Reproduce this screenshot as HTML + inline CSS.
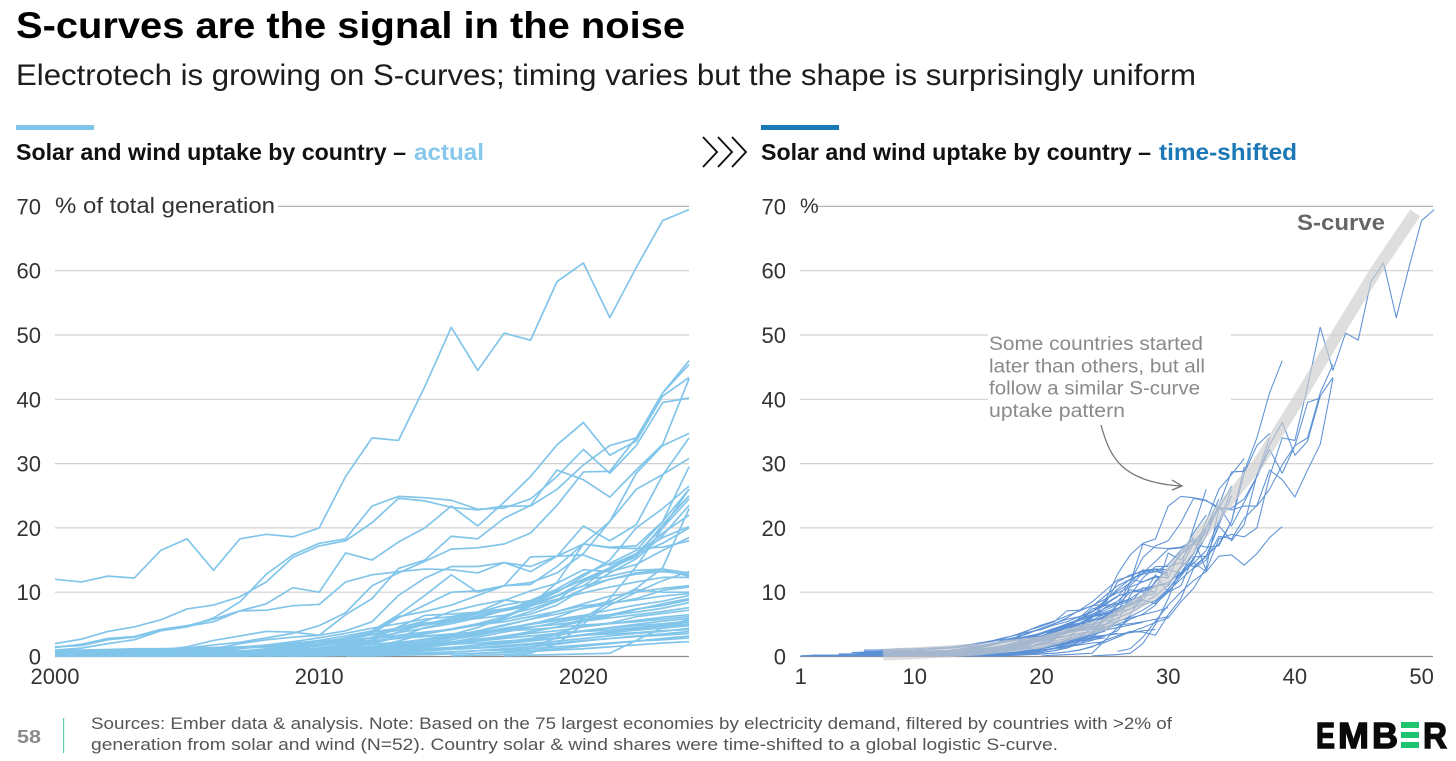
<!DOCTYPE html>
<html lang="en">
<head>
<meta charset="utf-8">
<title>S-curves are the signal in the noise</title>
<style>
html,body{margin:0;padding:0;background:#fff;}
svg{display:block;font-family:"Liberation Sans",sans-serif;}
</style>
</head>
<body>
<svg id="page" xmlns="http://www.w3.org/2000/svg" width="1456" height="761" viewBox="0 0 1456 761">
  <rect x="0" y="0" width="1456" height="761" fill="#fff"/>
  <text x="16" y="38" font-size="37" font-weight="700" fill="#000" textLength="669" lengthAdjust="spacingAndGlyphs">S-curves are the signal in the noise</text>
  <text x="16" y="85" font-size="30" fill="#1c1c1c" textLength="1180" lengthAdjust="spacingAndGlyphs">Electrotech is growing on S-curves; timing varies but the shape is surprisingly uniform</text>

  <rect x="16" y="125" width="78" height="5" fill="#7fc5ea"/>
  <text x="16" y="160" font-size="23" font-weight="700" fill="#111" textLength="390" lengthAdjust="spacingAndGlyphs">Solar and wind uptake by country –</text>
  <text x="414" y="160" font-size="23" font-weight="700" fill="#85c8ec" textLength="70" lengthAdjust="spacingAndGlyphs">actual</text>

  <g fill="none" stroke="#111" stroke-width="1.9">
    <path d="M703 137 L717 152 L703 167"/>
    <path d="M718 137 L732 152 L718 167"/>
    <path d="M732 137 L746 152 L732 167"/>
  </g>

  <rect x="761" y="125" width="78" height="5" fill="#1b78b6"/>
  <text x="761" y="160" font-size="23" font-weight="700" fill="#111" textLength="390" lengthAdjust="spacingAndGlyphs">Solar and wind uptake by country –</text>
  <text x="1159" y="160" font-size="23" font-weight="700" fill="#1b78b6" textLength="138" lengthAdjust="spacingAndGlyphs">time-shifted</text>

  <g id="left-chart"></g>
  <g id="right-chart"></g>

  <text x="91" y="729" font-size="17" fill="#555" textLength="1081" lengthAdjust="spacingAndGlyphs">Sources: Ember data &amp; analysis. Note: Based on the 75 largest economies by electricity demand, filtered by countries with &gt;2% of</text>
  <text x="91" y="750" font-size="17" fill="#555" textLength="967" lengthAdjust="spacingAndGlyphs">generation from solar and wind (N=52). Country solar &amp; wind shares were time-shifted to a global logistic S-curve.</text>
  <text x="17" y="743" font-size="18" font-weight="700" fill="#8a8a8a" textLength="24" lengthAdjust="spacingAndGlyphs">58</text>
  <rect x="63" y="718" width="1.2" height="35" fill="#5fd0a0"/>

  <g stroke-linejoin="miter">
    <text x="1316" y="748" font-size="36" font-weight="700" fill="#0a0a0a" stroke="#0a0a0a" stroke-width="1.4" textLength="19" lengthAdjust="spacingAndGlyphs">E</text>
    <text x="1338" y="748" font-size="36" font-weight="700" fill="#0a0a0a" stroke="#0a0a0a" stroke-width="1.4" textLength="31" lengthAdjust="spacingAndGlyphs">M</text>
    <text x="1372" y="748" font-size="36" font-weight="700" fill="#0a0a0a" stroke="#0a0a0a" stroke-width="1.4" textLength="26" lengthAdjust="spacingAndGlyphs">B</text>
    <text x="1401" y="748" font-size="36" font-weight="700" fill="none" textLength="18" lengthAdjust="spacingAndGlyphs">E</text>
    <rect x="1401" y="722" width="18" height="6" fill="#1fc46f"/>
    <rect x="1401" y="732" width="18" height="6" fill="#1fc46f"/>
    <rect x="1401" y="742" width="18" height="6" fill="#1fc46f"/>
    <text x="1423" y="748" font-size="36" font-weight="700" fill="#0a0a0a" stroke="#0a0a0a" stroke-width="1.4" textLength="24" lengthAdjust="spacingAndGlyphs">R</text>
  </g>
</svg>

<script>
// Axis tick labels
const yTicks = [0, 10, 20, 30, 40, 50, 60, 70];
const leftXTicks = [2000, 2010, 2020];
const rightXTicks = [1, 10, 20, 30, 40, 50];

// Solar + wind share of generation, % (2000..2024), one array per country
const c01 = [12,11.6,12.5,12.2,16.5,18.3,13.4,18.3,19,18.6,20,28,34,33.6,42,51.2,44.5,50.3,49.2,58.3,61.2,52.7,60.5,67.8,69.5];
const c02 = [2,2.7,3.9,4.6,5.7,7.4,8,9.3,11.6,15.4,17.2,18,20.8,24.6,24.2,23.2,22.8,23.4,23.4,26,29.8,32.8,34,41,45.4];
const c03 = [1,1.3,2,2.6,4,4.6,6,8.5,12.8,15.8,17.6,18.3,23.4,24.9,24.7,24.3,22.9,23.1,24.5,28,32.2,28.5,32.8,39.5,40.2];
const c04 = [1.4,1.9,2.8,3.1,4.2,4.8,5.8,7.1,8.2,10.7,10,16.1,15,17.8,20,23.4,20.3,24,28,32.9,36.4,31.3,33.5,40.5,43.4];
const c05 = [1.5,1.7,2.6,3,4.1,4.7,5.4,7.1,7.2,7.9,8.1,11.6,12.7,13.2,13.6,13.5,13,14.6,13.2,15.6,15.8,14.2,16,18.5,20.2];
const c06 = [0.3,0.4,0.5,0.7,1,1.5,2.5,3.2,3.9,3.8,3.3,6.5,9,13.7,15,18.7,18.3,21.5,23.5,29,27.5,24.8,29,33,43.2];
const c07 = [0.2,0.3,0.5,0.7,1,1.3,1.8,2.2,2.9,3.6,4.8,6.8,11,13,14.8,16.7,16.9,17.5,19.2,23.5,28.7,28.8,34,41,46];
const c08 = [0.1,0.1,0.2,0.3,0.5,0.9,1.2,2,2.6,3,3.3,4,5.4,9.5,12.2,14,14,14.6,14,15.6,17.5,21,28.5,32.8,34.7];
const c09 = [0.1,0.1,0.2,0.2,0.4,0.6,0.9,1.2,1.6,2,2.5,3.2,4,6.5,9.5,12.7,10,11,15.5,15.6,20.3,18,20.5,28.2,34];
const c10 = [0.1,0.1,0.1,0.2,0.3,0.4,0.6,0.8,1.2,1.6,2,2.8,3.6,6,8,10,10.2,11,11.5,13,16,21,26,28.3,30.8];
const c11 = [0,0.1,0.1,0.1,0.2,0.3,0.4,0.6,0.9,1.2,1.6,2.3,3.8,6.2,7,8,9.5,11,11.2,14,17.5,17,17.2,21,29.5];
const c12 = [0,0,0.1,0.1,0.1,0.2,0.3,0.5,0.7,1,1.3,2,3,4.5,5.5,7,8,8.8,8.2,10,12.5,15,20,23,26.5];
const c13 = [0,0,0,0.1,0.1,0.1,0.2,0.3,0.5,0.8,1.2,1.8,2.6,3.8,5,6,6.8,8,8.7,10.5,12.8,14.5,16.5,21,26];
const c14 = [0,0,0,0,0.1,0.1,0.2,0.3,0.4,0.6,0.9,1.3,2,3,4.5,5.4,6.2,7.2,8.5,10.2,12,13.8,15.5,20.5,25];
const c15 = [0.1,0.1,0.1,0.2,0.2,0.3,0.4,0.5,0.7,0.9,1.2,1.6,2.5,4.6,6.4,6.6,6.9,7.4,8.2,9.5,11,13.8,16,20,24.5];
const c16 = [0,0,0,0,0,0.1,0.1,0.2,0.3,0.4,0.6,0.9,1.5,2.4,3.5,4.2,5,5.8,6.6,8,10.5,13,15.2,18.8,23.5];
const c17 = [0,0,0,0,0,0,0.1,0.1,0.2,0.3,0.4,0.5,0.7,1,1.6,2.2,3,3.8,4.5,5.3,6,8.5,10.6,13.8,23];
const c18 = [0.3,0.3,0.4,0.4,0.5,0.6,0.7,0.8,1,1.3,1.8,2.6,3.4,4.5,5.2,5.6,5.9,6.4,7.4,8.7,11.8,13.5,15.8,19.2,22];
const c19 = [0.1,0.1,0.2,0.2,0.3,0.4,0.6,0.8,1.1,1.5,2,2.9,3.8,4.4,5,5.7,6.6,7.2,8,9.4,11.6,13.6,15.9,17.6,20];
const c20 = [0.4,0.4,0.5,0.6,0.7,0.9,1.1,1.4,1.8,2.3,2.9,3.6,4.4,5.1,5.8,6.2,6.9,8.7,10.2,11.4,13.5,13.2,14.3,16.5,18.5];
const c21 = [0,0,0,0.1,0.1,0.2,0.2,0.3,0.5,0.7,1,1.5,2.2,3,3.6,4.3,5.1,6.2,8,11.5,17.5,16.9,16.8,17,18];
const c22 = [0,0,0,0,0,0,0,0,0,0,0,0,0,0,0,0,0,0.8,1.2,3,5.5,8,10,11.8,13.2];
const c23 = [0.2,0.2,0.3,0.3,0.4,0.5,0.6,0.8,1,1.3,1.7,2.2,2.9,3.7,4.4,5.1,6,7.2,8.5,10.2,11.9,12.5,13.4,13.6,13];
const c24 = [0.1,0.2,0.2,0.3,0.3,0.4,0.5,0.6,0.8,1,1.3,1.7,2.2,2.9,3.6,4.2,4.9,5.7,7,8.6,10.5,12,12.8,13.2,12.8];
const c25 = [0,0,0.1,0.1,0.1,0.2,0.3,0.4,0.5,0.7,0.9,1.2,1.6,2.1,2.7,3.4,4.5,6,7.8,9.4,11,12,13,13.5,12.5];
const c26 = [0.5,0.6,0.7,0.8,0.9,1,1.2,1.4,1.6,1.9,2.3,2.8,3.4,4.1,4.9,5.5,6.3,7.1,7.9,8.9,9.9,10.8,11.6,12.3,12.3];
const c27 = [0,0,0,0,0.1,0.1,0.2,0.2,0.3,0.4,0.6,0.8,1.1,1.6,2.2,3,3.9,4.8,5.8,7,8.2,9.4,10,10.6,11];
const c28 = [0.2,0.2,0.2,0.3,0.3,0.4,0.4,0.5,0.6,0.7,0.9,1.1,1.4,1.9,2.5,3.2,4,4.9,5.8,6.6,7.5,8.2,9,10.3,10.8];
const c29 = [0,0,0,0,0,0,0.1,0.1,0.2,0.3,0.4,0.6,0.9,1.4,2,2.6,3.3,4.1,5,6.1,7.6,8.6,10.4,10,10];
const c30 = [0.6,0.7,0.7,0.8,0.9,1,1.1,1.3,1.5,1.8,2,2.4,2.9,3.3,3.8,4.2,4.9,5.4,6.2,7,7.9,8.3,8.8,9.4,9.8];
const c31 = [0.1,0.1,0.1,0.2,0.2,0.2,0.3,0.4,0.5,0.6,0.8,1,1.3,1.7,2.2,2.9,3.5,4.3,5.1,5.8,6.4,7.2,8,8.6,9.5];
const c32 = [0,0,0,0,0,0.1,0.1,0.2,0.2,0.3,0.4,0.5,0.8,1.1,1.6,2,2.5,3.1,3.9,4.6,5.5,6.3,7.3,8.2,9];
const c33 = [0.3,0.3,0.4,0.4,0.4,0.5,0.6,0.7,0.8,1,1.2,1.5,1.9,2.2,2.6,3.1,3.7,4.4,5,5.6,6.2,6.5,7.4,7.9,8.8];
const c34 = [0,0,0,0.1,0.1,0.1,0.2,0.2,0.3,0.4,0.5,0.6,0.8,1,1.4,1.9,2.6,3.2,3.8,4.6,5.8,6.4,6.9,7.5,8.4];
const c35 = [0.8,0.8,0.9,1,1,1.1,1.2,1.3,1.5,1.7,1.9,2.2,2.5,2.8,3.1,3.5,3.8,4.2,4.6,5,5.5,6,6.5,7,7.6];
const c36 = [0,0,0,0,0,0,0,0,0.1,0.1,0.2,0.3,0.4,0.6,0.9,1.3,1.8,2.3,2.8,3.6,4.8,5.2,6.2,6.7,7.2];
const c37 = [0.2,0.2,0.2,0.3,0.3,0.3,0.4,0.5,0.6,0.7,0.8,1,1.2,1.5,1.9,2.3,2.7,3.1,3.6,4,4.6,5.1,5.6,6.1,6.5];
const c38 = [1,1,1.1,1.2,1.2,1.3,1.4,1.5,1.7,2.1,2.4,2.6,2.9,3,3.2,3.5,3.8,4,4.2,4.5,4.9,5.1,5.4,5.8,6.2];
const c39 = [0,0,0,0,0,0,0,0.1,0.1,0.2,0.3,0.4,0.6,0.8,1.1,1.4,1.8,2.2,2.7,3.3,4,4.5,5,5.5,5.9];
const c40 = [0.1,0.1,0.1,0.1,0.2,0.2,0.2,0.3,0.4,0.5,0.6,0.8,1,1.3,1.6,2,2.4,2.8,3.2,3.6,4,4.4,4.8,5.1,5.5];
const c41 = [0.4,0.4,0.5,0.5,0.5,0.6,0.7,0.7,0.8,0.9,1,1.1,1.3,1.5,1.8,2.1,2.5,2.9,3.2,3.4,3.9,4.1,4.5,4.9,5.3];
const c42 = [0,0,0,0,0,0,0.1,0.1,0.1,0.2,0.2,0.3,0.5,0.7,1,1.3,1.7,2.2,2.5,2.9,3.4,3.9,4.3,4.7,5];
const c43 = [0.1,0.2,0.2,0.2,0.2,0.3,0.3,0.4,0.4,0.5,0.6,0.7,0.8,1,1.2,1.4,1.7,2,2.4,2.8,3.3,3.7,4.1,4.4,4.8];
const c44 = [0,0,0,0,0.1,0.1,0.1,0.2,0.2,0.3,0.3,0.4,0.5,0.7,0.9,1.1,1.4,1.7,2,2.4,2.8,3.2,3.6,3.9,4.4];
const c45 = [0.6,0.6,0.6,0.7,0.7,0.8,0.8,0.9,0.9,1,1.1,1.2,1.3,1.5,1.6,1.9,2.1,2.4,2.6,2.9,3.3,3.5,3.7,4,4.2];
const c46 = [0,0,0,0,0,0,0,0,0,0.1,0.1,0.2,0.3,0.4,0.5,0.7,0.9,1.2,1.5,1.9,2.4,2.8,3.2,3.5,3.9];
const c47 = [0.2,0.2,0.2,0.2,0.3,0.3,0.3,0.3,0.4,0.4,0.5,0.5,0.6,0.8,0.9,1.1,1.3,1.5,1.8,2.1,2.5,2.8,3.1,3.3,3.6];
const c48 = [0,0,0,0,0,0,0,0,0,0,0,0.1,0.1,0.2,0.3,0.4,0.5,0.7,0.9,1.2,1.6,2,2.4,2.8,3.2];
const c49 = [0.1,0.1,0.1,0.1,0.1,0.2,0.2,0.2,0.2,0.3,0.3,0.4,0.4,0.5,0.6,0.7,0.9,1,1.2,1.5,1.8,2.1,2.4,2.6,2.9];
const c50 = [0,0,0,0,0,0,0,0,0.1,0.1,0.1,0.2,0.2,0.3,0.3,0.4,0.5,0.6,0.8,1,1.2,1.5,1.8,2.1,2.3];
const c51 = [0,0,0,0,0,0,0,0,0,0,0,0,0,0,0,0,0,0.1,0.2,0.3,0.4,0.5,2.5,4.5,5.8];
const c52 = [0,0,0,0,0,0,0,0,0,0,0,0,0,0,0,0.1,0.2,0.3,0.5,2,5,9,14,20,26];

const countries = [c01,c02,c03,c04,c05,c06,c07,c08,c09,c10,c11,c12,c13,c14,c15,c16,c17,c18,c19,c20,c21,c22,c23,c24,c25,c26,c27,c28,c29,c30,c31,c32,c33,c34,c35,c36,c37,c38,c39,c40,c41,c42,c43,c44,c45,c46,c47,c48,c49,c50,c51,c52];

// Years each country is moved along the S-curve axis in the right chart
const timeShifts = [27,19,18,19,15,19,15,14,14,12,12,11,11,11,10,10,10,9,9,8,8,9,6,6,6,6,5,5,5,5,4,4,4,3,6,2,2,6,2,1,4,1,1,1,5,1,2,1,1,1,3,9];

// Global logistic S-curve
const sCurveYears = [7.5,10,15,20,25,29,33,37.1,40.3,43.3,46.4,49.5];
const sCurveShares = [0.3,0.5,1.1,2.2,5,10,20,30,40,50,60,69];

const SVG_NS = 'http://www.w3.org/2000/svg';
const yScale = v => 656.5 - v * 6.43;
const xLeft = year => 55 + (year - 2000) * 26.42;
const xRight = n => 1041.5 + (n - 20) * 12.67;

function make(parent, tag, attrs, text) {
  const el = document.createElementNS(SVG_NS, tag);
  for (const k in attrs) el.setAttribute(k, attrs[k]);
  if (text !== undefined) el.textContent = text;
  parent.appendChild(el);
  return el;
}

function drawGrid(g, x0, x1, labelRight) {
  yTicks.forEach(t => {
    const line = make(g, 'line', {x1: x0, x2: x1, y1: yScale(t), y2: yScale(t),
      stroke: t === 0 ? '#8c8c8c' : (t === 70 ? '#b4b4b4' : '#d0d0d0'), 'stroke-width': 1.2});
    
    
    const label = make(g, 'text', {x: labelRight, y: yScale(t) + 8, 'font-size': 22, 'text-anchor': 'end', fill: '#333'}, String(t));
    
    
  });
}

function drawXTicks(g, ticks, xFn) {
  ticks.forEach(t => {
    const label = make(g, 'text', {x: xFn(t), y: 684, 'font-size': 22, 'text-anchor': 'middle', fill: '#333'}, String(t));
    
    
  });
}

function pointsFor(values, xOf) {
  const pts = [];
  let started = false;
  values.forEach((v, i) => {
    if (v > 0) started = true;
    if (started) pts.push(xOf(i).toFixed(2) + ',' + yScale(v).toFixed(2));
  });
  return pts.join(' ');
}

function drawLeft() {
  const g = document.getElementById('left-chart');
  drawGrid(g, 55, 689, 41);
  const mask = make(g, 'rect', {x: 50, y: 190, width: 228, height: 30, fill: '#fff'});
  
  
  const title = make(g, 'text', {x: 55, y: 213, 'font-size': 22, fill: '#333', textLength: 220, lengthAdjust: 'spacingAndGlyphs'}, '% of total generation');
  
  
  drawXTicks(g, leftXTicks, xLeft);
  countries.forEach((values, k) => {
    const line = make(g, 'polyline', {points: pointsFor(values, i => xLeft(2000 + i)), fill: 'none', stroke: '#82c5ea', 'stroke-width': 1.7, 'stroke-linejoin': 'round'});
    
    
  });
}

function drawRight() {
  const g = document.getElementById('right-chart');
  drawGrid(g, 800, 1433, 786);
  const mask = make(g, 'rect', {x: 797, y: 195, width: 18, height: 20, fill: '#fff'});
  
  
  const title = make(g, 'text', {x: 800, y: 213, 'font-size': 21, fill: '#333'}, '%');
  
  
  drawXTicks(g, rightXTicks, xRight);

  const noteBox = make(g, 'rect', {x: 988, y: 325, width: 243, height: 100, fill: '#fff'});
  
  

  countries.forEach((values, k) => {
    const line = make(g, 'polyline', {points: pointsFor(values, i => xRight(i + timeShifts[k])), fill: 'none', stroke: '#5c91d5', 'stroke-width': 1.05, 'stroke-linejoin': 'round'});
    
    
  });

  const band = make(g, 'polyline', {
    points: sCurveYears.map((x, i) => xRight(x).toFixed(2) + ',' + yScale(sCurveShares[i]).toFixed(2)).join(' '),
    fill: 'none', stroke: '#cdcdcd', 'stroke-opacity': 0.65, 'stroke-width': 12, 'stroke-linejoin': 'round'});
  
  

  const sLabel = make(g, 'text', {x: 1297, y: 230, 'font-size': 22, 'font-weight': 700, fill: '#666', textLength: 88, lengthAdjust: 'spacingAndGlyphs'}, 'S-curve');
  
  
}

drawLeft();
drawRight();
</script>
<script>
(function () {
  const g = document.getElementById('right-chart');
  const NS = 'http://www.w3.org/2000/svg';
  const noteLines = ['Some countries started', 'later than others, but all', 'follow a similar S-curve', 'uptake pattern'];
  const noteWidths = [214, 216, 211, 136];
  noteLines.forEach((txt, i) => {
    const t = document.createElementNS(NS, 'text');
    t.setAttribute('x', 989);
    t.setAttribute('y', 350 + i * 22.3);
    t.setAttribute('font-size', 19);
    t.setAttribute('fill', '#8a8a8a');
    t.setAttribute('textLength', noteWidths[i]);
    t.setAttribute('lengthAdjust', 'spacingAndGlyphs');
    
    
    t.textContent = txt;
    g.appendChild(t);
  });
  const arrow = document.createElementNS(NS, 'path');
  arrow.setAttribute('d', 'M1101 425 C1110 458 1122 482 1181 486 M1172 480 L1182 486 L1172 490');
  arrow.setAttribute('fill', 'none');
  arrow.setAttribute('stroke', '#777');
  arrow.setAttribute('stroke-width', 1.3);
  
  
  g.appendChild(arrow);
})();
</script>
</body>
</html>
